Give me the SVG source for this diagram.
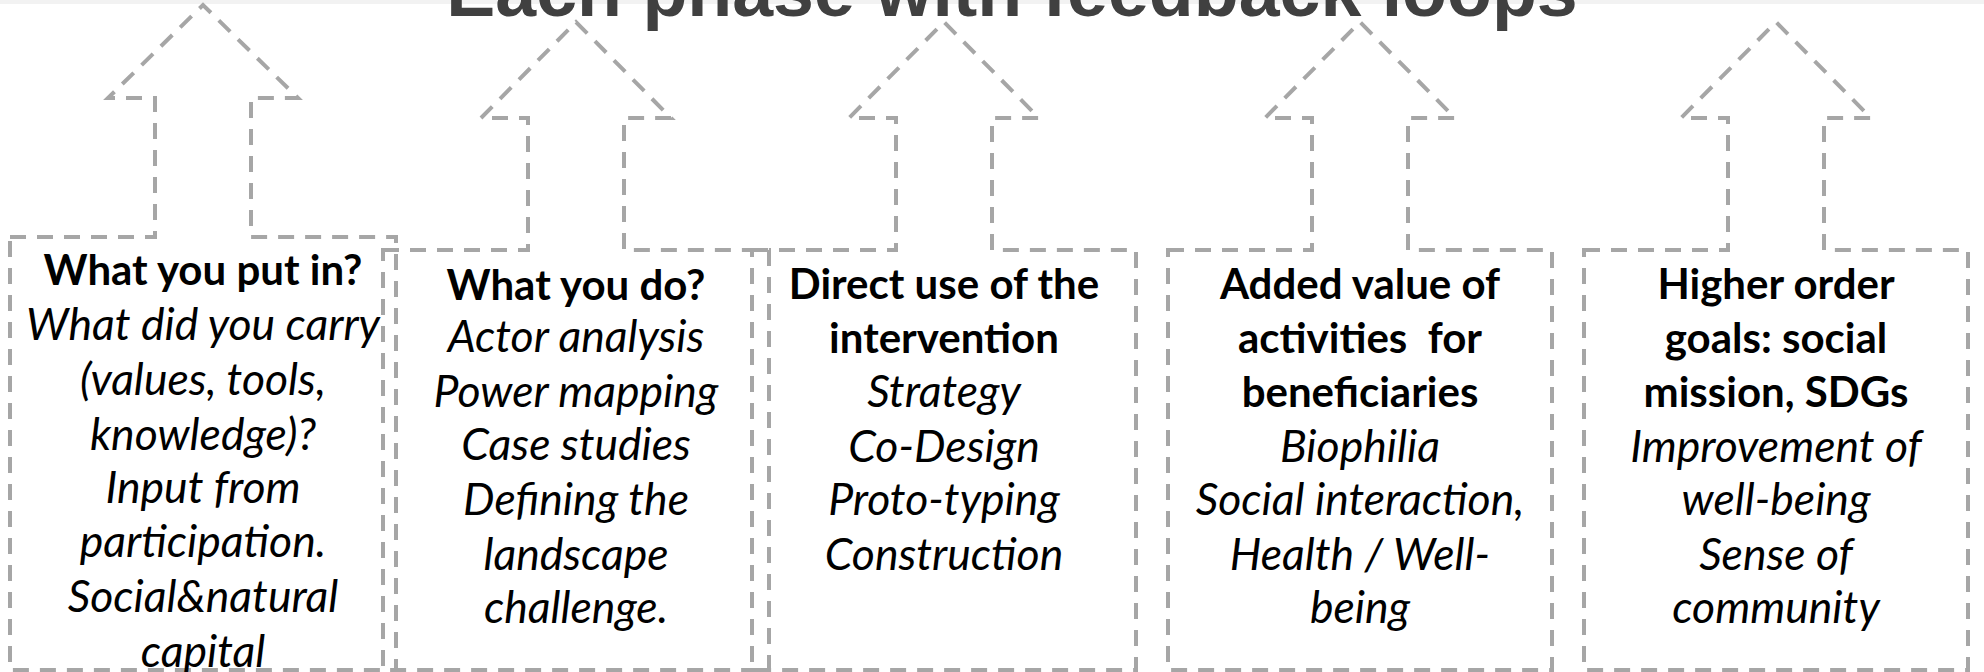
<svg xmlns="http://www.w3.org/2000/svg" width="1984" height="672" viewBox="0 0 1984 672">
<style>
.shape{fill:none;stroke:#a6a6a6;stroke-width:4;stroke-dasharray:16 11;stroke-linejoin:miter}
.t{font-family:Lato,"Liberation Sans",sans-serif;font-size:42px;fill:#000;text-anchor:middle}
.b{font-weight:bold}
.i{font-style:italic;font-size:44.5px}
.title{font-family:"Liberation Sans",Arial,sans-serif;font-weight:bold;font-size:73.5px;fill:#404040;text-anchor:middle}
</style>
<rect x="0" y="0" width="1984" height="672" fill="#ffffff"/>
<rect x="0" y="0" width="1984" height="4" fill="#f2f2f2"/>
<text class="title" x="1012" y="16">Each phase with feedback loops</text>
<g id="connectors"></g>
<g id="phase1">
<path class="shape" d="M10,237 H155 V98 H108 L203,5 L298,98 H251 V237 H396 V670 H10 Z"/>
<text class="t b" x="203" y="285">What you put in?</text>
<text class="t i" x="203" y="340">What did you carry</text>
<text class="t i" x="203" y="395">(values, tools,</text>
<text class="t i" x="203" y="450">knowledge)?</text>
<text class="t i" x="203" y="503">Input from</text>
<text class="t i" x="203" y="557">participation.</text>
<text class="t i" x="203" y="612">Social&amp;natural</text>
<text class="t i" x="203" y="667">capital</text>
</g>
<g id="phase2">
<path class="shape" d="M383,250 H528 V118 H481 L576,22 L671,118 H624 V250 H769 V670 H383 Z"/>
<text class="t b" x="576" y="300">What you do?</text>
<text class="t i" x="576" y="352">Actor analysis</text>
<text class="t i" x="576" y="407">Power mapping</text>
<text class="t i" x="576" y="460">Case studies</text>
<text class="t i" x="576" y="515">Defining the</text>
<text class="t i" x="576" y="570">landscape</text>
<text class="t i" x="576" y="623">challenge.</text>
</g>
<g id="phase3">
<path class="shape" d="M752,250 H896 V118 H849 L944,22 L1039,118 H992 V250 H1136 V670 H752 Z"/>
<text class="t b" x="944" y="299">Direct use of the</text>
<text class="t b" x="944" y="353">intervention</text>
<text class="t i" x="944" y="407">Strategy</text>
<text class="t i" x="944" y="462">Co-Design</text>
<text class="t i" x="944" y="515">Proto-typing</text>
<text class="t i" x="944" y="570">Construction</text>
</g>
<g id="phase4">
<path class="shape" d="M1168,250 H1312 V118 H1265 L1360,22 L1455,118 H1408 V250 H1552 V670 H1168 Z"/>
<text class="t b" x="1360" y="299">Added value of</text>
<text class="t b" x="1360" y="353" xml:space="preserve">activities  for</text>
<text class="t b" x="1360" y="407">beneficiaries</text>
<text class="t i" x="1360" y="462">Biophilia</text>
<text class="t i" x="1360" y="515">Social interaction,</text>
<text class="t i" x="1360" y="570">Health / Well-</text>
<text class="t i" x="1360" y="623">being</text>
</g>
<g id="phase5">
<path class="shape" d="M1584,250 H1728 V118 H1681 L1776,22 L1871,118 H1824 V250 H1968 V670 H1584 Z"/>
<text class="t b" x="1776" y="299">Higher order</text>
<text class="t b" x="1776" y="353">goals: social</text>
<text class="t b" x="1776" y="407">mission, SDGs</text>
<text class="t i" x="1776" y="462">Improvement of</text>
<text class="t i" x="1776" y="515">well-being</text>
<text class="t i" x="1776" y="570">Sense of</text>
<text class="t i" x="1776" y="623">community</text>
</g>
</svg>
